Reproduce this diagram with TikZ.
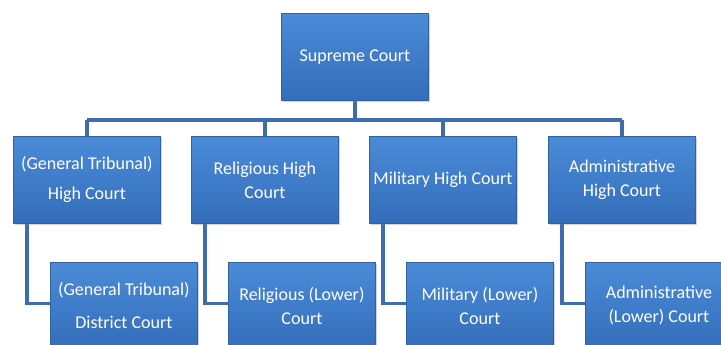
\documentclass[tikz,border=0pt]{standalone}
\usepackage{fontspec}
\setmainfont{Carlito}
\usetikzlibrary{shadows}
\pgfdeclarelayer{background}
\pgfsetlayers{background,main}
\definecolor{boxtop}{HTML}{4A8BD8}
\definecolor{boxbot}{HTML}{346DBA}
\definecolor{boxline}{HTML}{3161A3}
\definecolor{conn}{HTML}{3D6DAE}
\tikzset{
  court/.style={draw=boxline, line width=0.8pt, top color=boxtop, bottom color=boxbot,
    minimum width=147pt, minimum height=87pt, anchor=north west, align=center,
    text=white, inner sep=2pt, font=\fontsize{18pt}{24pt}\selectfont,
    drop shadow={shadow xshift=1.5pt, shadow yshift=-2pt, opacity=0.35}},
  link/.style={draw=conn, line width=3.5pt}
}
\begin{document}
\begin{tikzpicture}[x=1pt,y=-1pt]
\useasboundingbox (0,0) rectangle (721,345);
\clip (0,0) rectangle (721,345);
\coordinate (bus) at (0,120);
\node[court] (sc) at (281,13) {Supreme Court};
\node[court] (h1) at (13,136) {\raisebox{-3pt}{(General Tribunal)}\\[9pt]High Court};
\node[court] (h2) at (191,136) {Religious High\\Court};
\node[court] (h3) at (369,136) {Military High Court};
\node[court] (h4) at (548,136) {Administrative\\High Court};
\node[court] (l1) at (50,262) {(General Tribunal)\\[9pt]District Court};
\node[court] (l2) at (228,262) {Religious (Lower)\\Court};
\node[court] (l3) at (406,262) {Military (Lower)\\Court};
\node[court] (l4) at (585,262) {Administrative\\(Lower) Court};
\begin{pgfonlayer}{background}
\path[link] (sc.south) -- (sc.south |- bus);
\path[link] (h1.north |- bus) -- (h4.north |- bus);
\foreach \n in {h1,h2,h3,h4}{
  \path[link] (\n.north |- bus) -- (\n.north);
}
\foreach \a/\b in {h1/l1,h2/l2,h3/l3,h4/l4}{
  \path[link] ([xshift=14pt]\a.south west) |- ([yshift=2.5pt]\b.west);
}
\end{pgfonlayer}
\end{tikzpicture}
\end{document}
